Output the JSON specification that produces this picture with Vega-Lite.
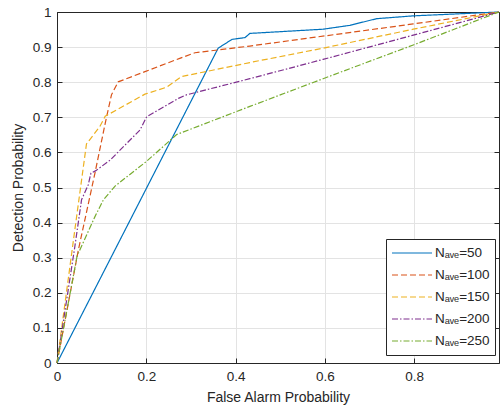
{
  "$schema": "https://vega.github.io/schema/vega-lite/v6.json",
  "width": 442,
  "height": 351,
  "autosize": {"type": "none"},
  "padding": {"left": 57, "top": 12, "right": 1, "bottom": 46},
  "background": "white",
  "config": {
    "font": "Liberation Sans",
    "view": {"stroke": null},
    "axis": {
      "domainColor": "#262626",
      "tickColor": "#262626",
      "labelColor": "#262626",
      "titleColor": "#262626",
      "labelFontSize": 13.5,
      "titleFontSize": 14,
      "titleFontWeight": "normal",
      "gridColor": "#e3e3e3",
      "gridWidth": 1,
      "tickSize": -5,
      "domainWidth": 1
    },
    "legend": {
      "labelFont": "Liberation Sans",
      "labelFontSize": 13.5,
      "labelColor": "#262626"
    }
  },
  "data": {
    "values": [
      {"s": "Nₐᵥₑ=50", "pfa": 0, "pd": 0},
      {"s": "Nₐᵥₑ=50", "pfa": 0.361, "pd": 0.897},
      {"s": "Nₐᵥₑ=50", "pfa": 0.392, "pd": 0.922},
      {"s": "Nₐᵥₑ=50", "pfa": 0.421, "pd": 0.927},
      {"s": "Nₐᵥₑ=50", "pfa": 0.432, "pd": 0.939},
      {"s": "Nₐᵥₑ=50", "pfa": 0.596, "pd": 0.951},
      {"s": "Nₐᵥₑ=50", "pfa": 0.656, "pd": 0.962},
      {"s": "Nₐᵥₑ=50", "pfa": 0.716, "pd": 0.981},
      {"s": "Nₐᵥₑ=50", "pfa": 0.798, "pd": 0.989},
      {"s": "Nₐᵥₑ=50", "pfa": 0.99, "pd": 1.0},
      {"s": "Nₐᵥₑ=100", "pfa": 0, "pd": 0},
      {"s": "Nₐᵥₑ=100", "pfa": 0.048, "pd": 0.323},
      {"s": "Nₐᵥₑ=100", "pfa": 0.085, "pd": 0.541},
      {"s": "Nₐᵥₑ=100", "pfa": 0.108, "pd": 0.683},
      {"s": "Nₐᵥₑ=100", "pfa": 0.122, "pd": 0.764},
      {"s": "Nₐᵥₑ=100", "pfa": 0.137, "pd": 0.801},
      {"s": "Nₐᵥₑ=100", "pfa": 0.197, "pd": 0.83},
      {"s": "Nₐᵥₑ=100", "pfa": 0.275, "pd": 0.868},
      {"s": "Nₐᵥₑ=100", "pfa": 0.309, "pd": 0.884},
      {"s": "Nₐᵥₑ=100", "pfa": 0.361, "pd": 0.892},
      {"s": "Nₐᵥₑ=100", "pfa": 0.432, "pd": 0.903},
      {"s": "Nₐᵥₑ=100", "pfa": 0.798, "pd": 0.966},
      {"s": "Nₐᵥₑ=100", "pfa": 0.99, "pd": 1.0},
      {"s": "Nₐᵥₑ=150", "pfa": 0, "pd": 0},
      {"s": "Nₐᵥₑ=150", "pfa": 0.04, "pd": 0.38},
      {"s": "Nₐᵥₑ=150", "pfa": 0.066, "pd": 0.624},
      {"s": "Nₐᵥₑ=150", "pfa": 0.096, "pd": 0.674},
      {"s": "Nₐᵥₑ=150", "pfa": 0.108, "pd": 0.703},
      {"s": "Nₐᵥₑ=150", "pfa": 0.197, "pd": 0.766},
      {"s": "Nₐᵥₑ=150", "pfa": 0.246, "pd": 0.786},
      {"s": "Nₐᵥₑ=150", "pfa": 0.279, "pd": 0.816},
      {"s": "Nₐᵥₑ=150", "pfa": 0.432, "pd": 0.856},
      {"s": "Nₐᵥₑ=150", "pfa": 0.596, "pd": 0.897},
      {"s": "Nₐᵥₑ=150", "pfa": 0.798, "pd": 0.951},
      {"s": "Nₐᵥₑ=150", "pfa": 0.99, "pd": 1.0},
      {"s": "Nₐᵥₑ=200", "pfa": 0, "pd": 0},
      {"s": "Nₐᵥₑ=200", "pfa": 0.04, "pd": 0.332},
      {"s": "Nₐᵥₑ=200", "pfa": 0.055, "pd": 0.465},
      {"s": "Nₐᵥₑ=200", "pfa": 0.07, "pd": 0.508},
      {"s": "Nₐᵥₑ=200", "pfa": 0.076, "pd": 0.541},
      {"s": "Nₐᵥₑ=200", "pfa": 0.087, "pd": 0.548},
      {"s": "Nₐᵥₑ=200", "pfa": 0.119, "pd": 0.578},
      {"s": "Nₐᵥₑ=200", "pfa": 0.186, "pd": 0.664},
      {"s": "Nₐᵥₑ=200", "pfa": 0.201, "pd": 0.702},
      {"s": "Nₐᵥₑ=200", "pfa": 0.272, "pd": 0.754},
      {"s": "Nₐᵥₑ=200", "pfa": 0.29, "pd": 0.764},
      {"s": "Nₐᵥₑ=200", "pfa": 0.432, "pd": 0.81},
      {"s": "Nₐᵥₑ=200", "pfa": 0.596, "pd": 0.865},
      {"s": "Nₐᵥₑ=200", "pfa": 0.798, "pd": 0.934},
      {"s": "Nₐᵥₑ=200", "pfa": 0.99, "pd": 1.0},
      {"s": "Nₐᵥₑ=250", "pfa": 0, "pd": 0},
      {"s": "Nₐᵥₑ=250", "pfa": 0.045, "pd": 0.305},
      {"s": "Nₐᵥₑ=250", "pfa": 0.085, "pd": 0.417},
      {"s": "Nₐᵥₑ=250", "pfa": 0.104, "pd": 0.465},
      {"s": "Nₐᵥₑ=250", "pfa": 0.13, "pd": 0.504},
      {"s": "Nₐᵥₑ=250", "pfa": 0.201, "pd": 0.575},
      {"s": "Nₐᵥₑ=250", "pfa": 0.268, "pd": 0.651},
      {"s": "Nₐᵥₑ=250", "pfa": 0.432, "pd": 0.731},
      {"s": "Nₐᵥₑ=250", "pfa": 0.596, "pd": 0.81},
      {"s": "Nₐᵥₑ=250", "pfa": 0.798, "pd": 0.906},
      {"s": "Nₐᵥₑ=250", "pfa": 0.99, "pd": 1.0}
    ]
  },
  "layer": [
    {
      "mark": {"type": "line", "strokeWidth": 1.2},
      "encoding": {
        "x": {
          "field": "pfa", "type": "quantitative",
          "scale": {"domain": [0, 0.99], "nice": false, "zero": false},
          "axis": {
            "orient": "bottom", "title": "False Alarm Probability",
            "values": [0, 0.2, 0.4, 0.6, 0.8], "format": "~g",
            "labelPadding": 11, "titlePadding": 8, "labelFlush": false
          }
        },
        "y": {
          "field": "pd", "type": "quantitative",
          "scale": {"domain": [0, 1], "nice": false},
          "axis": {
            "orient": "left", "title": "Detection Probability",
            "values": [0, 0.1, 0.2, 0.3, 0.4, 0.5, 0.6, 0.7, 0.8, 0.9, 1], "format": "~g",
            "labelPadding": 11, "titlePadding": 7, "labelFlush": false
          }
        },
        "color": {
          "field": "s", "type": "nominal",
          "scale": {
            "domain": ["Nₐᵥₑ=50", "Nₐᵥₑ=100", "Nₐᵥₑ=150", "Nₐᵥₑ=200", "Nₐᵥₑ=250"],
            "range": ["#0072BD", "#D95319", "#EDB120", "#7E2F8E", "#77AC30"]
          },
          "legend": {
            "title": null, "orient": "none", "legendX": 329, "legendY": 227,
            "symbolType": "stroke", "symbolSize": 1600, "symbolStrokeWidth": 1.2,
            "strokeColor": "#262626", "fillColor": "white", "padding": 5,
            "rowPadding": 4, "labelOffset": 2, "clipHeight": 18
          }
        },
        "strokeDash": {
          "field": "s", "type": "nominal",
          "scale": {
            "domain": ["Nₐᵥₑ=50", "Nₐᵥₑ=100", "Nₐᵥₑ=150", "Nₐᵥₑ=200", "Nₐᵥₑ=250"],
            "range": [[1, 0], [6, 3], [6, 3], [6, 2, 1.5, 2], [6, 2, 1.5, 2]]
          },
          "legend": null
        }
      }
    },
    {
      "mark": {"type": "point", "opacity": 0},
      "encoding": {
        "x": {
          "field": "pfa", "type": "quantitative",
          "axis": {"orient": "top", "title": null, "labels": false, "grid": false,
                   "values": [0, 0.2, 0.4, 0.6, 0.8]}
        },
        "y": {
          "field": "pd", "type": "quantitative",
          "axis": {"orient": "right", "title": null, "labels": false, "grid": false,
                   "values": [0, 0.1, 0.2, 0.3, 0.4, 0.5, 0.6, 0.7, 0.8, 0.9, 1]}
        }
      }
    }
  ],
  "resolve": {"axis": {"x": "independent", "y": "independent"}}
}
